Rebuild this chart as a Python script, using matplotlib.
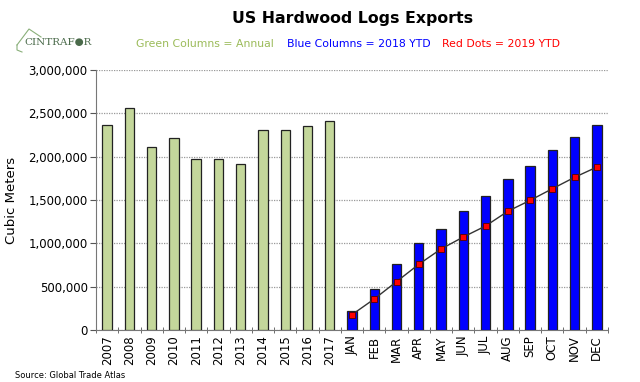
import matplotlib
matplotlib.use("Agg")
import matplotlib.pyplot as plt
from matplotlib.ticker import FuncFormatter
from matplotlib.lines import Line2D
import numpy as np

years = ["2007", "2008", "2009", "2010", "2011", "2012", "2013", "2014", "2015", "2016", "2017"]
annual = [2365000, 2558000, 2115000, 2220000, 1970000, 1977000, 1915000, 2304000, 2310000, 2357000, 2410000]
months = ["JAN", "FEB", "MAR", "APR", "MAY", "JUN", "JUL", "AUG", "SEP", "OCT", "NOV", "DEC"]
ytd_2018 = [219000, 473000, 758000, 1000000, 1169000, 1369000, 1550000, 1746000, 1896000, 2077000, 2230000, 2369000]
ytd_2019 = [177000, 358000, 558000, 758000, 935000, 1073000, 1200000, 1370000, 1496000, 1630000, 1762000, 1880000]

fig = plt.figure(figsize=(6.4, 3.82), dpi=100)
ax = fig.add_axes([96/640, 1-330/382, 512/640, 260/382])

n_y = len(years)
xg = np.arange(n_y)
xm = np.arange(len(months)) + n_y
bw = 0.42
ax.bar(xg, annual, width=bw, color="#c4d79b", edgecolor="#222222", linewidth=0.9, zorder=3)
ax.bar(xm, ytd_2018, width=bw, color="#0000ff", edgecolor="#222222", linewidth=0.9, zorder=3)
ax.plot(xm, ytd_2019, color="#333333", linewidth=1.0, marker="s", markersize=5,
        markerfacecolor="#ff0000", markeredgecolor="#550000", markeredgewidth=0.6, zorder=4)

ax.set_xlim(-0.5, n_y + len(months) - 0.5)
ax.set_ylim(0, 3000000)
ax.set_yticks(np.arange(0, 3000001, 500000))
ax.yaxis.set_major_formatter(FuncFormatter(lambda v, p: f"{int(v):,}"))
ax.yaxis.grid(True, linestyle=(0, (1, 1)), color="#999999", linewidth=0.9, zorder=0)
ax.set_axisbelow(True)

ax.set_xticks(np.concatenate([xg, xm]))
ax.set_xticklabels(years + months, rotation=90, fontsize=8.5, family="DejaVu Sans")
ax.set_xticks(np.arange(-0.5, n_y + len(months)), minor=True)
ax.tick_params(axis="x", which="major", length=0, pad=4)
ax.tick_params(axis="x", which="minor", length=4, direction="inout", color="#555555")
ax.tick_params(axis="y", labelsize=8.5, length=4, color="#555555", pad=2)
for lab in ax.get_yticklabels():
    lab.set_family("DejaVu Sans")

for s in ["top", "right"]:
    ax.spines[s].set_visible(False)
ax.spines["left"].set_color("#777777")
ax.spines["bottom"].set_color("#777777")

ax.set_ylabel("Cubic Meters", fontsize=9.5)
ax.yaxis.set_label_coords((18 - 96) / 512, 0.5)

fig.text(353/640, 1-18/382, "US Hardwood Logs Exports", ha="center", va="center",
         fontsize=11.3, fontweight="bold")
fig.text(136/640, 1-44/382, "Green Columns = Annual", ha="left", va="center", fontsize=7.8, color="#9bbb59")
fig.text(287/640, 1-44/382, "Blue Columns = 2018 YTD", ha="left", va="center", fontsize=7.8, color="#0000ff")
fig.text(442/640, 1-44/382, "Red Dots = 2019 YTD", ha="left", va="center", fontsize=7.8, color="#ff0000")

# logo
fig.text(24/640, 1-43/382, "CINTRAF\u25CFR", ha="left", va="center", fontsize=7.5,
         family="DejaVu Serif", color="#4a6a4a")
fig.add_artist(Line2D([x/640 for x in [17, 29, 41]], [1-y/382 for y in [45, 29, 37]],
                      color="#8ab07a", linewidth=0.8))
fig.add_artist(Line2D([x/640 for x in [17, 17, 22]], [1-y/382 for y in [45, 50, 52]],
                      color="#8ab07a", linewidth=0.8))

fig.text(15/640, 1-376/382, "Source: Global Trade Atlas", ha="left", va="center", fontsize=6)

fig.savefig("out.png", dpi=100)
